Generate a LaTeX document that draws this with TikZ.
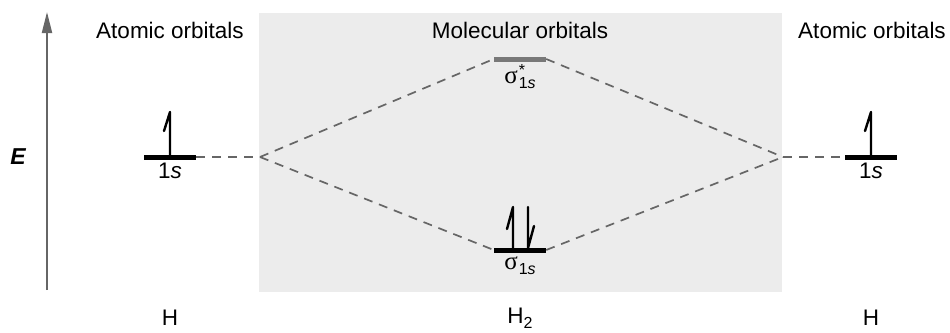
\documentclass[tikz,border=0pt]{standalone}
\usepackage{fontspec}
\setmainfont{Liberation Sans}
\newfontfamily\sigfont{Liberation Serif}
\usetikzlibrary{arrows.meta}
\definecolor{boxgray}{RGB}{236,236,236}
\definecolor{linegray}{RGB}{102,102,102}
\definecolor{stargray}{RGB}{120,120,120}
\newcommand{\smallsz}{\fontsize{16}{18}\selectfont}
\newcommand{\sigsz}{\fontsize{25}{28}\selectfont}
\begin{document}
\begin{tikzpicture}[x=1pt,y=-1pt,
  lbl/.style={font=\fontsize{22.5}{26}\selectfont, inner sep=0pt},
  level/.style={rectangle, inner sep=0pt, minimum width=52pt, minimum height=5pt, fill=black},
  dashln/.style={draw=linegray, line width=1.7pt, dash pattern=on 9pt off 7pt},
  elec/.style={line width=2.4pt, line cap=round, line join=round}]
\useasboundingbox (0,0) rectangle (950,332);
% shaded box
\node[rectangle, inner sep=0pt, minimum width=523pt, minimum height=279pt, fill=boxgray] (mo) at (520.5,152.5) {};
% energy axis
\coordinate (ebot) at (47,290);
\coordinate (etop) at (47,12);
\draw[linegray, line width=2pt, -{Triangle[length=21pt,width=10pt]}] (ebot) -- (etop);
\node[font=\fontsize{23}{26}\selectfont\bfseries\itshape, inner sep=0pt] (E) at (18,157) {E};
% headings
\node[lbl] (al) at (170,30) {Atomic orbitals};
\node[lbl] (mol) at (520,30) {Molecular orbitals};
\node[lbl] (ar) at (872,30) {Atomic orbitals};
% levels
\node[level] (L) at (170,157) {};
\node[level] (R) at (871,157) {};
\node[level, fill=stargray] (S) at (520,59) {};
\node[level] (B) at (520,250) {};
% labels
\node[lbl, anchor=north] (Ll) at (170,163) {1\textit{s}};
\node[lbl, anchor=north] (Rl) at (871,163) {1\textit{s}};
\node[lbl, anchor=north] (Sl) at (520,64) {{\sigfont\sigsz σ}\kern1pt\makebox[0pt][l]{\raisebox{8pt}{\smallsz *}}\raisebox{-5pt}{\smallsz 1\textit{s}}};
\node[lbl, anchor=north] (Bl) at (520,257) {{\sigfont\sigsz σ}\kern1pt\raisebox{-5pt}{\smallsz 1\textit{s}}};
% bottom names
\node[lbl] (H1) at (170,318) {H};
\node[lbl] (H2) at (520,318) {H\raisebox{-5pt}{\smallsz 2}};
\node[lbl] (H3) at (871,318) {H};
% connectors
\coordinate (pl) at (260,157);
\coordinate (pr) at (783,157);
\draw[dashln] (L.east) -- (pl);
\draw[dashln] (pl) -- (S.west);
\draw[dashln] (pl) -- (B.west);
\draw[dashln] (S.east) -- (pr);
\draw[dashln] (B.east) -- (pr);
\draw[dashln] (pr) -- (R.west);
% electrons
\draw[elec] (170,155) -- (170,112) -- (164,131);
\draw[elec] (871,155) -- (871,112) -- (865,131);
\draw[elec] (513,248) -- (513,207) -- (507,229);
\draw[elec] (528,207) -- (528,248) -- (534,226);
\end{tikzpicture}
\end{document}
